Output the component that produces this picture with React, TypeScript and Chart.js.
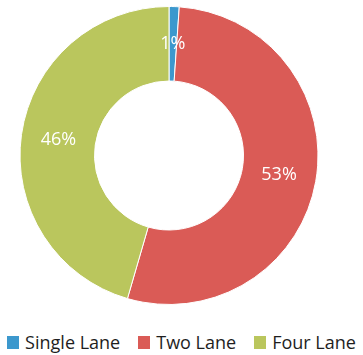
import React, { useEffect, useRef } from "react";
import { Chart, registerables } from "chart.js";

Chart.register(...registerables);

const categories = ["Single Lane", "Two Lane", "Four Lane"];
const shares = [1.1, 53.4, 45.5];
const shareLabels = ["1%", "53%", "46%"];
const colors = ["#3c98cd", "#da5b56", "#bac65d"];

const FONT = "'Open Sans', sans-serif";

const sliceLabels = {
  id: "sliceLabels",
  afterDatasetsDraw(chart: any) {
    const ctx = chart.ctx;
    const meta = chart.getDatasetMeta(0);
    ctx.save();
    ctx.fillStyle = "#ffffff";
    ctx.font = `18px ${FONT}`;
    ctx.textAlign = "center";
    ctx.textBaseline = "middle";
    meta.data.forEach((arc: any, i: number) => {
      const p = arc.getCenterPoint();
      ctx.fillText(shareLabels[i], p.x, p.y);
    });
    ctx.restore();
  },
};

export default function App() {
  const ref = useRef<HTMLCanvasElement | null>(null);
  useEffect(() => {
    document.body.style.margin = "0";
    const chart = new Chart(ref.current!, {
      type: "doughnut",
      data: {
        labels: categories,
        datasets: [
          {
            data: shares,
            backgroundColor: colors,
            borderColor: "#ffffff",
            borderWidth: 1,
          },
        ],
      },
      options: {
        animation: false,
        responsive: true,
        maintainAspectRatio: false,
        cutout: "50%",
        layout: { padding: { top: 6, right: 25, bottom: 15, left: 0 } },
        plugins: {
          tooltip: { enabled: false },
          legend: { display: false },
        },
      },
      plugins: [sliceLabels],
    });
    return () => chart.destroy();
  }, []);
  return (
    <div style={{ width: 363, height: 355, position: "relative" }}>
      <div style={{ width: 363, height: 320, position: "relative" }}>
        <canvas ref={ref} />
      </div>
      <div
        style={{
          position: "absolute",
          top: 330,
          left: 0,
          width: 363,
          display: "flex",
          justifyContent: "center",
          alignItems: "center",
          gap: 18,
          fontFamily: FONT,
          fontSize: 18,
          color: "#1e1e1e",
          whiteSpace: "nowrap",
        }}
      >
        {categories.map((c, i) => (
          <div key={c} style={{ display: "flex", alignItems: "center" }}>
            <span
              style={{
                display: "inline-block",
                width: 12,
                height: 13,
                background: colors[i],
                marginRight: 6,
              }}
            />
            <span>{c}</span>
          </div>
        ))}
      </div>
    </div>
  );
}
